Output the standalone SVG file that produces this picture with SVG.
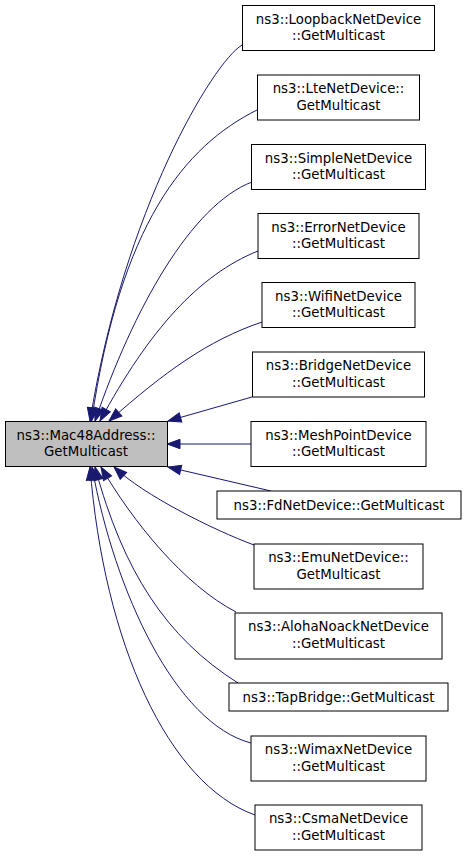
<svg xmlns="http://www.w3.org/2000/svg" width="467" height="856" viewBox="0 0 467 856">
<defs>
<style>
.node rect{fill:#ffffff;stroke:#000000;stroke-width:1}
.main rect{fill:#bfbfbf}
.node text{font-family:"DejaVu Sans","Liberation Sans",sans-serif;font-size:13.33px;fill:#000000;text-anchor:middle}
.edges path{fill:none;stroke:#191970;stroke-width:1}
</style>
<marker id="ah" markerUnits="userSpaceOnUse" markerWidth="16" markerHeight="12" refX="13" refY="5" orient="auto" viewBox="0 0 16 12" overflow="visible">
<path d="M0,0.3 L13,5 L0,9.7 Z" fill="#191970" stroke="#191970" stroke-width="1"/>
</marker>
</defs>
<rect width="467" height="856" fill="#ffffff"/>
<g class="edges">
<path marker-end="url(#ah)" d="M242,45 C213.4,62.2 123.9,209.2 90,421"/>
<path marker-end="url(#ah)" d="M257,110 C184.7,146.2 120.6,223.5 91.5,421"/>
<path marker-end="url(#ah)" d="M252,182 C191.4,205 133.3,308.6 95,421"/>
<path marker-end="url(#ah)" d="M258,251 C199,274.6 148.7,330.7 100,421"/>
<path marker-end="url(#ah)" d="M262,322 C207.4,340.6 165,371.7 109,421"/>
<path marker-end="url(#ah)" d="M252,397 L168,421"/>
<path marker-end="url(#ah)" d="M251,444 L167,444"/>
<path marker-end="url(#ah)" d="M271,491 L168,467"/>
<path marker-end="url(#ah)" d="M254,545 C213.5,530 143.8,495.3 114,467"/>
<path marker-end="url(#ah)" d="M236,612 C184,585 133,522 101,467"/>
<path marker-end="url(#ah)" d="M238,683 C166,637.6 123,571 95,467"/>
<path marker-end="url(#ah)" d="M251,743 C176.3,723.6 114.7,593 92,467"/>
<path marker-end="url(#ah)" d="M255,815 C168,784 104,643 90,467"/>
</g>
<g id="node_main" class="node main"><rect x="5.5" y="421.5" width="162" height="45"/><text x="86" y="439.5">ns3::Mac48Address::</text><text x="86" y="456">GetMulticast</text></g>
<g id="node_loopback" class="node"><rect x="242.5" y="5.5" width="192" height="45"/><text x="338.5" y="23.5">ns3::LoopbackNetDevice</text><text x="338.5" y="40">::GetMulticast</text></g>
<g id="node_lte" class="node"><rect x="257.5" y="75" width="162" height="45"/><text x="338.5" y="93">ns3::LteNetDevice::</text><text x="338.5" y="109.5">GetMulticast</text></g>
<g id="node_simple" class="node"><rect x="251.5" y="144.5" width="174" height="45"/><text x="338.5" y="162.5">ns3::SimpleNetDevice</text><text x="338.5" y="179">::GetMulticast</text></g>
<g id="node_error" class="node"><rect x="258" y="213.5" width="161" height="45"/><text x="338.5" y="231.5">ns3::ErrorNetDevice</text><text x="338.5" y="248">::GetMulticast</text></g>
<g id="node_wifi" class="node"><rect x="262" y="282.5" width="153" height="45"/><text x="338.5" y="300.5">ns3::WifiNetDevice</text><text x="338.5" y="317">::GetMulticast</text></g>
<g id="node_bridge" class="node"><rect x="252.5" y="352" width="172" height="45"/><text x="338.5" y="370">ns3::BridgeNetDevice</text><text x="338.5" y="386.5">::GetMulticast</text></g>
<g id="node_meshpoint" class="node"><rect x="251" y="421.5" width="175" height="45"/><text x="338.5" y="439.5">ns3::MeshPointDevice</text><text x="338.5" y="456">::GetMulticast</text></g>
<g id="node_fd" class="node"><rect x="217" y="491" width="244" height="28"/><text x="339" y="509.5">ns3::FdNetDevice::GetMulticast</text></g>
<g id="node_emu" class="node"><rect x="254" y="544" width="169" height="45"/><text x="338.5" y="562">ns3::EmuNetDevice::</text><text x="338.5" y="578.5">GetMulticast</text></g>
<g id="node_aloha" class="node"><rect x="235" y="613" width="207" height="46"/><text x="338.5" y="631">ns3::AlohaNoackNetDevice</text><text x="338.5" y="647.5">::GetMulticast</text></g>
<g id="node_tapbridge" class="node"><rect x="229" y="683" width="219" height="28"/><text x="338.5" y="701.5">ns3::TapBridge::GetMulticast</text></g>
<g id="node_wimax" class="node"><rect x="251" y="736" width="175" height="45"/><text x="338.5" y="754">ns3::WimaxNetDevice</text><text x="338.5" y="770.5">::GetMulticast</text></g>
<g id="node_csma" class="node"><rect x="255" y="805" width="167" height="45"/><text x="338.5" y="823">ns3::CsmaNetDevice</text><text x="338.5" y="839.5">::GetMulticast</text></g>
</svg>
